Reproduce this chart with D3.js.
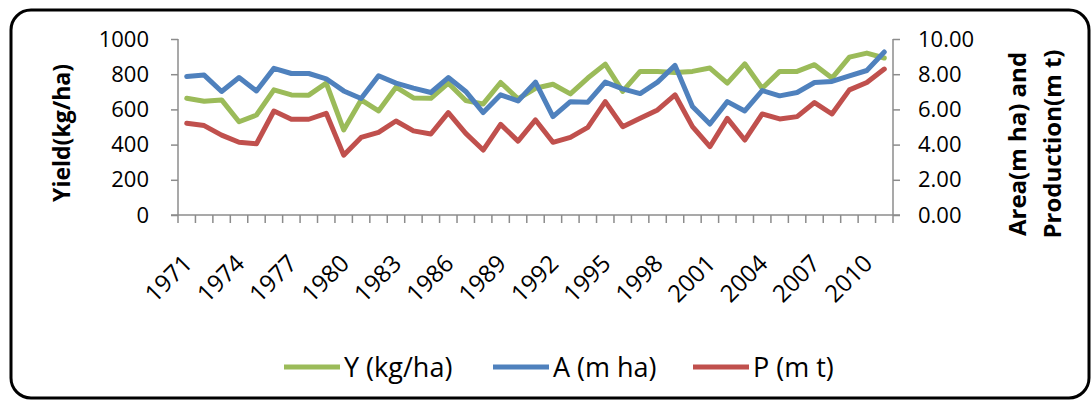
<!DOCTYPE html>
<html>
<head>
<meta charset="utf-8">
<script src="https://cdn.jsdelivr.net/npm/d3@7"></script>
<style>
  html, body { margin: 0; padding: 0; background: #fff; }
  svg { display: block; font-family: "Open Sans", "Noto Sans", sans-serif; }
</style>
</head>
<body>
<svg id="chart" width="1092" height="406"></svg>
<script>
// Years 1971–2011
const years = d3.range(1971, 2012);
const tickYears = [1971, 1974, 1977, 1980, 1983, 1986, 1989, 1992, 1995, 1998, 2001, 2004, 2007, 2010];

// Yield (kg/ha) – left axis
const yieldKg = [663, 646, 654, 530, 568, 711, 682, 681, 749, 483,
                 654, 591, 726, 665, 663, 749, 650, 631, 753, 660,
                 720, 743, 688, 778, 857, 702, 816, 816, 810, 816,
                 835, 749, 859, 720, 816, 816, 854, 778, 897, 920, 892];

// Area (m ha) – right axis
const areaMha = [7.87, 7.95, 7.02, 7.81, 7.05, 8.33, 8.04, 8.04, 7.74, 7.05,
                 6.62, 7.91, 7.49, 7.21, 6.96, 7.81, 7.02, 5.82, 6.83, 6.48,
                 7.55, 5.59, 6.44, 6.41, 7.55, 7.17, 6.90, 7.55, 8.50, 6.16,
                 5.17, 6.44, 5.91, 7.07, 6.77, 6.96, 7.53, 7.59, 7.91, 8.21, 9.26];

// Production (m t) – right axis
const prodMt = [5.21, 5.08, 4.54, 4.13, 4.05, 5.91, 5.44, 5.44, 5.78, 3.40,
                4.41, 4.70, 5.34, 4.78, 4.60, 5.82, 4.64, 3.69, 5.15, 4.20,
                5.40, 4.13, 4.41, 4.98, 6.44, 5.02, 5.50, 5.97, 6.83, 5.02,
                3.88, 5.49, 4.26, 5.74, 5.46, 5.59, 6.39, 5.74, 7.11, 7.53, 8.29];

const leftTicks = [0, 200, 400, 600, 800, 1000];
const rightTicks = [0, 2, 4, 6, 8, 10];

const series = [
  { name: "Y (kg/ha)", values: yieldKg, color: "#9BBB59", axis: "left" },
  { name: "A (m ha)",  values: areaMha, color: "#4F81BD", axis: "right" },
  { name: "P (m t)",   values: prodMt,  color: "#C0504D", axis: "right" }
];

const svg = d3.select("#chart");
const plot = { left: 178, right: 893, top: 39, bottom: 215 };
const axisColor = "#8c8c8c";

// Outer frame
svg.append("rect")
  .attr("x", 11).attr("y", 10)
  .attr("width", 1078).attr("height", 388)
  .attr("rx", 20).attr("ry", 20)
  .attr("fill", "#fff").attr("stroke", "#000").attr("stroke-width", 3);

const x = d3.scaleBand().domain(years).range([plot.left, plot.right]).padding(0);
const yL = d3.scaleLinear().domain([0, 1000]).range([plot.bottom, plot.top]);
const yR = d3.scaleLinear().domain([0, 10]).range([plot.bottom, plot.top]);

// Left axis
const gL = svg.append("g").attr("transform", `translate(${plot.left},0)`)
  .call(d3.axisLeft(yL).tickValues(leftTicks).tickSize(7).tickPadding(22).tickFormat(d3.format("d")));
// Right axis
const gR = svg.append("g").attr("transform", `translate(${plot.right},0)`)
  .call(d3.axisRight(yR).tickValues(rightTicks).tickSize(7).tickPadding(18).tickFormat(d3.format(".2f")));

[gL, gR].forEach(g => {
  g.select(".domain").attr("stroke", axisColor).attr("stroke-width", 1.5)
    .attr("d", `M0,${plot.top}V${plot.bottom}`);
  g.selectAll(".tick line").attr("stroke", axisColor).attr("stroke-width", 1.5);
  g.selectAll(".tick text").attr("font-size", 22).attr("fill", "#000")
    .attr("font-family", "Open Sans, sans-serif");
});

// Bottom category axis: tick marks between categories
const gX = svg.append("g").attr("transform", `translate(0,${plot.bottom})`);
gX.append("line")
  .attr("x1", plot.left - 7).attr("x2", plot.right + 7)
  .attr("stroke", axisColor).attr("stroke-width", 1.5);
const bounds = years.map(d => x(d)).concat([plot.right]);
gX.selectAll("line.tk").data(bounds).join("line").attr("class", "tk")
  .attr("x1", d => d).attr("x2", d => d).attr("y1", 0).attr("y2", 8)
  .attr("stroke", axisColor).attr("stroke-width", 1.5);
gX.selectAll("text").data(tickYears).join("text")
  .attr("transform", d => `translate(${x(d) + x.bandwidth() / 2 + 7},${50}) rotate(-45)`)
  .attr("text-anchor", "end")
  .attr("font-size", 24)
  .text(d => d);

// Series lines
series.forEach(s => {
  const ys = s.axis === "left" ? yL : yR;
  const line = d3.line()
    .x((d, i) => x(years[i]) + x.bandwidth() / 2)
    .y(d => ys(d));
  svg.append("path")
    .datum(s.values)
    .attr("d", line)
    .attr("fill", "none")
    .attr("stroke", s.color)
    .attr("stroke-width", 5)
    .attr("stroke-linejoin", "round")
    .attr("stroke-linecap", "round");
});

// Axis titles
svg.append("text")
  .attr("transform", `translate(70,133) rotate(-90)`)
  .attr("text-anchor", "middle")
  .attr("font-size", 23).attr("font-weight", "bold")
  .text("Yield(kg/ha)");

const rt = svg.append("text")
  .attr("transform", `translate(1026,144) rotate(-90)`)
  .attr("text-anchor", "middle")
  .attr("font-size", 24).attr("font-weight", "bold");
rt.append("tspan").attr("x", 0).attr("dy", 0).text("Area(m ha) and");
rt.append("tspan").attr("x", 0).attr("dy", 35).text("Production(m t)");

// Legend
const legendX = [284, 493, 693];
const lg = svg.append("g").selectAll("g").data(series).join("g")
  .attr("transform", (d, i) => `translate(${legendX[i]},367)`);
lg.append("line").attr("x1", 0).attr("x2", 56)
  .attr("stroke", d => d.color).attr("stroke-width", 5);
lg.append("text").attr("x", 60).attr("dy", "0.36em")
  .attr("font-size", 27).text(d => d.name);
</script>
</body>
</html>
